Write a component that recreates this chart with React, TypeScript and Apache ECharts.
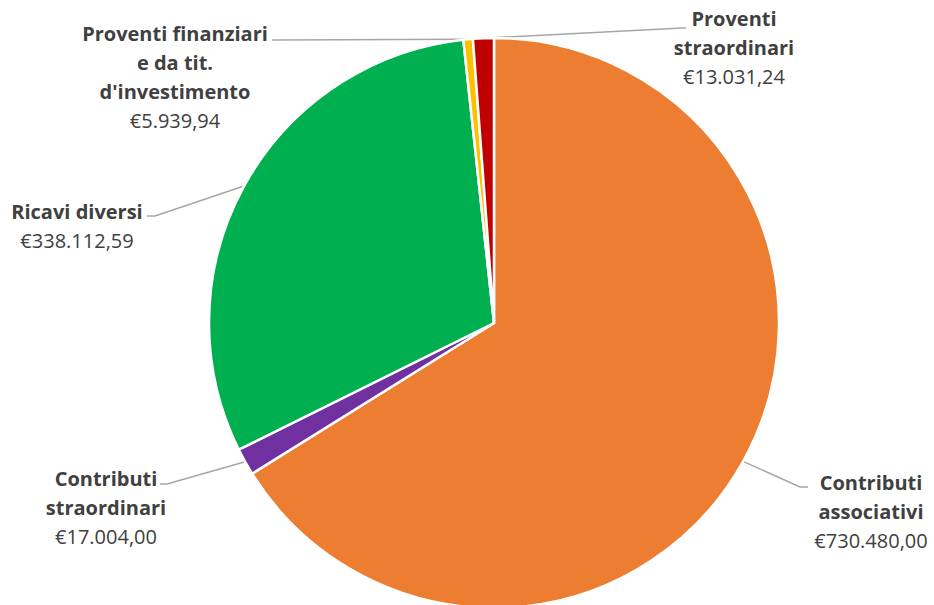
import React, { useEffect, useRef } from "react";
import * as echarts from "echarts";

const categories = [
  "Contributi associativi",
  "Contributi straordinari",
  "Ricavi diversi",
  "Proventi finanziari e da tit. d'investimento",
  "Proventi straordinari",
];
const displayNames = [
  ["Contributi", "associativi"],
  ["Contributi", "straordinari"],
  ["Ricavi diversi"],
  ["Proventi finanziari", "e da tit.", "d'investimento"],
  ["Proventi", "straordinari"],
];
const values = [730480.0, 17004.0, 338112.59, 5939.94, 13031.24];
const colors = ["#ED7D31", "#7030A0", "#00B050", "#FFC000", "#C00000"];

// label layout (positions only)
const CX = 494;
const CY = 323;
const R = 285;
const labelBoxes = [
  { x: 871, y: 468, line: [[800, 487], [808, 487]] },
  { x: 106, y: 464, line: [[167, 484], [160, 484]] },
  { x: 77, y: 197, line: [[155, 216], [147, 216]] },
  { x: 175, y: 19, line: [[276, 40], [272, 40]] },
  { x: 734, y: 4, line: [[682, 28], [686, 28]] },
];

const FONT = "'Open Sans', 'Noto Sans', sans-serif";

function fmtEuro(v: number): string {
  const [int, dec] = v.toFixed(2).split(".");
  const withDots = int.replace(/\B(?=(\d{3})+(?!\d))/g, ".");
  return "€" + withDots + "," + dec;
}

export default function App() {
  const ref = useRef<HTMLDivElement>(null);
  useEffect(() => {
    if (!ref.current) return;
    const chart = echarts.init(ref.current, undefined, { renderer: "svg" });
    const total = values.reduce((a, b) => a + b, 0);
    const midPoints: number[][] = [];
    let cum = 0;
    values.forEach((v) => {
      const th = ((cum + v / 2) / total) * Math.PI * 2;
      midPoints.push([CX + R * Math.sin(th), CY - R * Math.cos(th)]);
      cum += v;
    });
    chart.setOption({
      animation: false,
      backgroundColor: "#ffffff",
      series: [
        {
          type: "pie",
          center: [CX, CY],
          radius: R,
          startAngle: 90,
          clockwise: true,
          avoidLabelOverlap: false,
          data: values.map((v, i) => ({
            name: categories[i],
            value: v,
            itemStyle: { color: colors[i] },
          })),
          itemStyle: { borderColor: "#ffffff", borderWidth: 2.5 },
          label: {
            show: true,
            position: "outside",
            fontFamily: FONT,
            formatter: (p: any) => {
              const lines = displayNames[p.dataIndex].map((l) => `{b|${l}}`);
              return lines.join("\n") + "\n{v|" + fmtEuro(p.value) + "}";
            },
            rich: {
              b: {
                fontFamily: FONT,
                fontWeight: "bold",
                fontSize: 20,
                color: "#404040",
                lineHeight: 29,
                align: "center",
              },
              v: {
                fontFamily: FONT,
                fontSize: 20,
                color: "#404040",
                lineHeight: 29,
                align: "center",
              },
            },
          },
          labelLine: {
            show: true,
            length: 20,
            length2: 10,
            lineStyle: { color: "#A6A6A6", width: 1.5 },
          },
          labelLayout: (params: any) => {
            const b = labelBoxes[params.dataIndex];
            return {
              x: b.x,
              y: b.y,
              align: "center",
              verticalAlign: "top",
              labelLinePoints: [midPoints[params.dataIndex], b.line[0], b.line[1]],
            };
          },
        },
      ],
    });
    return () => chart.dispose();
  }, []);
  return (
    <div
      ref={ref}
      style={{ position: "fixed", left: 0, top: 0, width: 934, height: 605 }}
    />
  );
}
